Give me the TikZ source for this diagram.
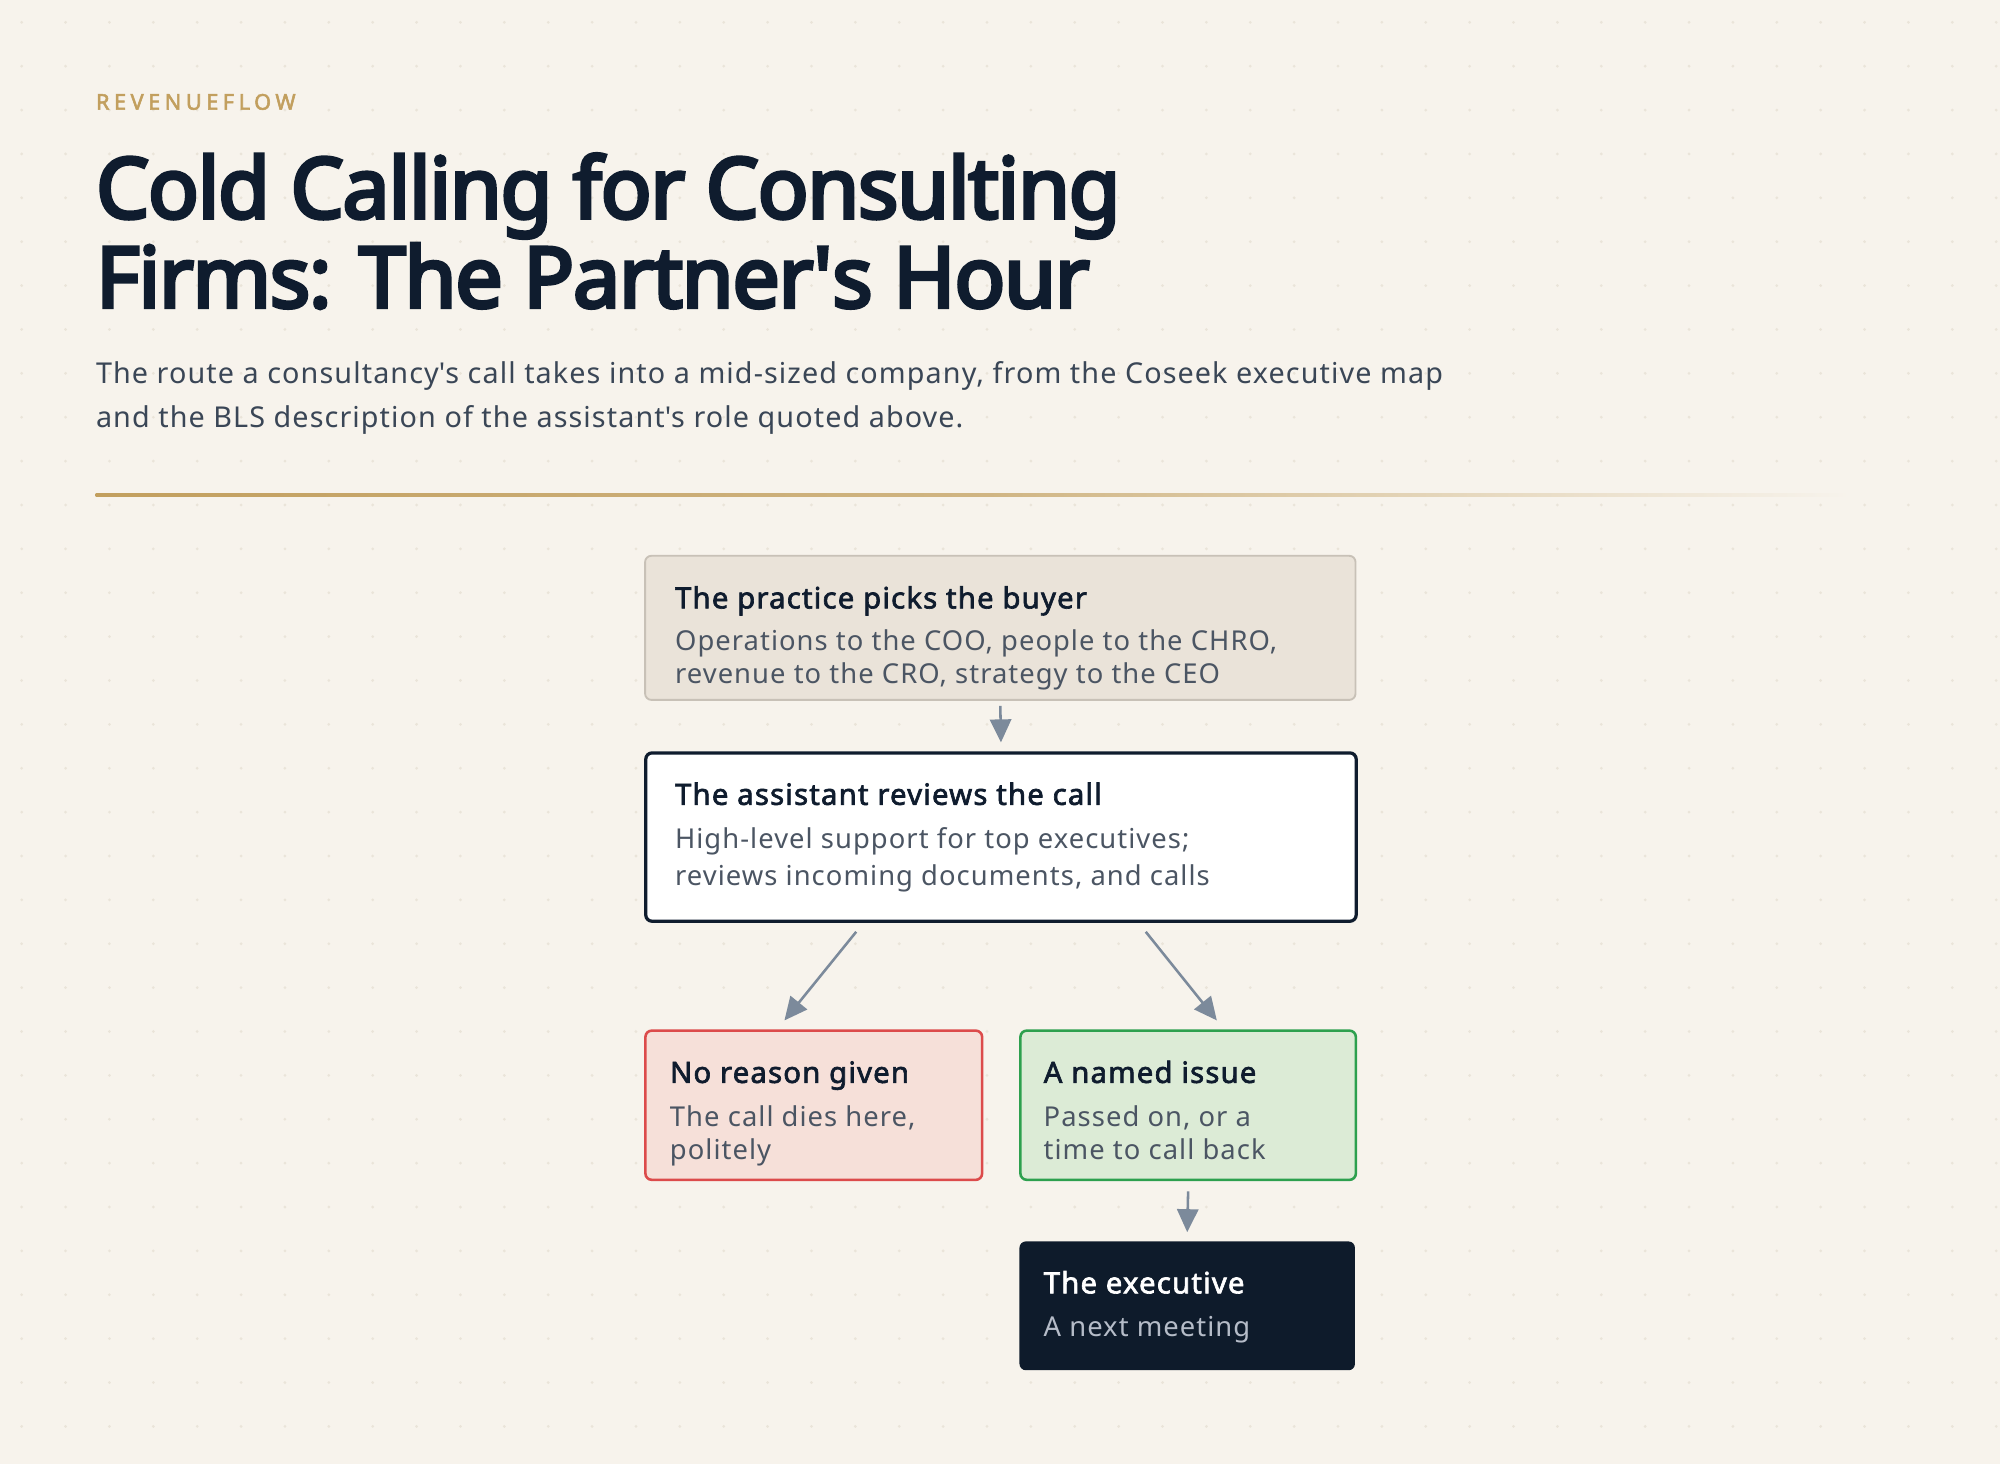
\documentclass[tikz,border=0pt]{standalone}
\usepackage{fontspec}
\setmainfont{Noto Sans}
\newfontfamily\heavyfont{Noto Sans}[FakeBold=4.3, LetterSpace=-1.5]
\newfontfamily\semifont{Noto Sans}[FakeBold=2.2, LetterSpace=4]
\newfontfamily\bodyfont{Noto Sans}[LetterSpace=3.8]
\newfontfamily\brandfont{Noto Sans}[FakeBold=2.5, LetterSpace=21]
\usetikzlibrary{arrows.meta,calc}
\definecolor{bg}{HTML}{F7F3EC}
\definecolor{dotc}{HTML}{EAE4D9}
\definecolor{gold}{HTML}{C29F5E}
\definecolor{ink}{HTML}{0F1C2E}
\definecolor{subink}{HTML}{3A4656}
\definecolor{boxsub}{HTML}{4B5563}
\definecolor{beigefill}{HTML}{EAE3D9}
\definecolor{beigeline}{HTML}{C8C1B7}
\definecolor{redfill}{HTML}{F6E0D9}
\definecolor{redline}{HTML}{DC4B4B}
\definecolor{greenfill}{HTML}{DCEBD6}
\definecolor{greenline}{HTML}{2DA04E}
\definecolor{darkfill}{HTML}{0E1B2B}
\definecolor{darksub}{HTML}{B5BCC8}
\definecolor{arrowc}{HTML}{7C8A9B}
\tikzset{
  boxbase/.style={rectangle, rounded corners=3.75pt, inner sep=0pt, anchor=north west},
  ttl/.style={anchor=base west, inner sep=0pt, text=ink, font=\semifont\fontsize{17.25}{20}\selectfont},
  sub/.style={anchor=base west, inner sep=0pt, text=boxsub, font=\bodyfont\fontsize{16.1}{20}\selectfont},
  headline/.style={anchor=base west, inner sep=0pt, text=ink, font=\heavyfont\fontsize{49.5}{55}\selectfont},
  lede/.style={anchor=base west, inner sep=0pt, text=subink, font=\bodyfont\fontsize{16.9}{20}\selectfont},
  flow/.style={draw=arrowc, line width=1.5pt, -{Triangle[width=12.5pt,length=13.5pt]}},
}
\begin{document}
\begin{tikzpicture}[x=0.75pt,y=-0.75pt]
\useasboundingbox (0,0) rectangle (1568,1148);
\fill[bg] (0,0) rectangle (1568,1148);
\foreach \i in {0,...,45}{
  \foreach \j in {0,...,33}{
    \fill[dotc] (17+34.4*\i,17.5+34.4*\j) circle (0.9pt);
  }
}
% header
\node[anchor=base west, inner sep=0pt, text=gold, font=\brandfont\fontsize{12.75}{15}\selectfont] (brand) at (75,86) {REVENUEFLOW};
\node[headline] (title1) at (75,171) {Cold Calling for Consulting};
\node[headline] (title2) at (75,241) {Firms: The Partner\textquotesingle s Hour};
\node[lede] (lede1) at (75,301) {The route a consultancy\textquotesingle s call takes into a mid-sized company, from the Coseek executive map};
\node[lede] (lede2) at (75,335) {and the BLS description of the assistant\textquotesingle s role quoted above.};
\shade[left color=gold, right color=bg, middle color=gold!75!bg] (75,387) rectangle (1450,389.5);
% boxes
\node[boxbase, fill=beigefill, draw=beigeline, line width=1.1pt, minimum width=417.75pt, minimum height=84.75pt] (b1) at (505,435) {};
\node[boxbase, fill=white, draw=ink, line width=1.9pt, minimum width=417.75pt, minimum height=99pt] (b2) at (505,589) {};
\node[boxbase, fill=redfill, draw=redline, line width=1.5pt, minimum width=198pt, minimum height=87.75pt] (red) at (505,807) {};
\node[boxbase, fill=greenfill, draw=greenline, line width=1.5pt, minimum width=197.25pt, minimum height=87.75pt] (green) at (799,807) {};
\node[boxbase, fill=darkfill, minimum width=197.25pt, minimum height=75.75pt] (dark) at (799,973) {};
% texts
\node[ttl] (b1t) at (529,477) {The practice picks the buyer};
\node[sub] (b1s1) at (529,510) {Operations to the COO, people to the CHRO,};
\node[sub] (b1s2) at (529,536) {revenue to the CRO, strategy to the CEO};
\node[ttl] (b2t) at (529,631) {The assistant reviews the call};
\node[sub] (b2s1) at (529,665) {High-level support for top executives;};
\node[sub] (b2s2) at (529,694) {reviews incoming documents, and calls};
\node[ttl] (redt) at (525,849) {No reason given};
\node[sub] (reds1) at (525,883) {The call dies here,};
\node[sub] (reds2) at (525,909) {politely};
\node[ttl] (greent) at (818,849) {A named issue};
\node[sub] (greens1) at (818,883) {Passed on, or a};
\node[sub] (greens2) at (818,909) {time to call back};
\node[ttl, text=white] (darkt) at (818,1014) {The executive};
\node[sub, text=darksub] (darks) at (818,1048) {A next meeting};
% connectors
\draw[flow] ($(b1.south)+(0,4)$) -- ($(b2.north)+(0,-7)$);
\draw[flow] ($(b2.south)+(-113.5,7)$) -- ($(red.north)+(-23,-7)$);
\draw[flow] ($(b2.south)+(113.5,7)$) -- ($(green.north)+(22.5,-7)$);
\draw[flow] ($(green.south)+(0,8)$) -- ($(dark.north)+(0,-7)$);
\end{tikzpicture}
\end{document}
